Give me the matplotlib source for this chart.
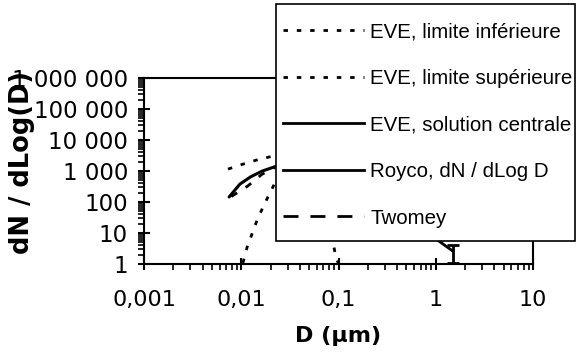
import matplotlib
matplotlib.use("Agg")
import matplotlib.pyplot as plt
from matplotlib.lines import Line2D
from matplotlib.patches import Rectangle
from matplotlib.ticker import FixedLocator, LogLocator, NullFormatter

# ---- data ----
lower_D = [0.0104, 0.0115, 0.0148, 0.0188, 0.0222, 0.03, 0.05, 0.07, 0.088, 0.093, 0.1]
lower_N = [1.08, 3.5, 30, 145, 410, 1000, 1500, 300, 4.8, 2.0, 1.0]

upper_D = [0.0073, 0.01, 0.015, 0.021, 0.03, 0.05, 0.08]
upper_N = [1150, 1600, 2350, 3000, 4000, 5000, 3000]

central_D = [0.0075, 0.0097, 0.0125, 0.0165, 0.0233, 0.035, 0.06, 0.08]
central_N = [145, 380, 650, 1000, 1450, 2000, 2500, 1500]

royco_D = [0.3, 0.5, 0.7, 1.0, 1.5]
royco_N = [600, 200, 50, 6.5, 2.6]
royco_err = 1.5  # error on the last Royco point

twomey_D = [0.0079, 0.0117, 0.0163, 0.0222, 0.03, 0.05]
twomey_N = [150, 330, 780, 1300, 1800, 2000]

x_ticks = [0.001, 0.01, 0.1, 1, 10]
x_labels = ["0,001", "0,01", "0,1", "1", "10"]
y_ticks = [1, 10, 100, 1000, 1e4, 1e5, 1e6]
y_labels = ["1", "10", "100", "1 000", "10 000", "100 000", "1 000 000"]

legend_labels = ["EVE, limite inférieure", "EVE, limite supérieure",
                 "EVE, solution centrale", "Royco, dN / dLog D", "Twomey"]

# ---- figure ----
W, H = 577, 354
fig = plt.figure(figsize=(W / 100, H / 100), dpi=100)
ax = fig.add_axes([144 / W, 1 - 264 / H, (533 - 144) / W, (264 - 78) / H])

dot = (0, (1.6, 3.2))
ax.plot(lower_D, lower_N, color="black", lw=2, linestyle=dot)
ax.plot(upper_D, upper_N, color="black", lw=2, linestyle=dot)
ax.plot(central_D, central_N, color="black", lw=2.2, solid_capstyle="round")
ax.plot(twomey_D, twomey_N, color="black", lw=2, linestyle=(0, (2.5, 3.6)))
ax.plot(royco_D, royco_N, color="black", lw=2)
ax.errorbar([royco_D[-1]], [royco_N[-1]], yerr=[[royco_err], [royco_err]],
            fmt="none", ecolor="black", elinewidth=2, capsize=4.5, capthick=2)

ax.set_xscale("log")
ax.set_yscale("log")
ax.set_xlim(0.001, 10)
ax.set_ylim(1, 1e6)

ax.xaxis.set_major_locator(FixedLocator(x_ticks))
ax.set_xticklabels(x_labels)
ax.yaxis.set_major_locator(FixedLocator(y_ticks))
ax.set_yticklabels(y_labels)
ax.xaxis.set_minor_locator(LogLocator(base=10, subs=range(2, 10), numticks=20))
ax.yaxis.set_minor_locator(LogLocator(base=10, subs=range(2, 10), numticks=20))
ax.xaxis.set_minor_formatter(NullFormatter())
ax.yaxis.set_minor_formatter(NullFormatter())

ax.tick_params(axis="both", which="major", direction="inout", length=9, width=1.5,
               color="black")
ax.tick_params(axis="both", which="minor", direction="out", length=4, width=1.2,
               color="black")
ax.tick_params(axis="x", which="major", labelsize=16, pad=14)
ax.tick_params(axis="y", which="major", labelsize=16.5, pad=7)
for s in ax.spines.values():
    s.set_linewidth(1.5)
    s.set_color("black")

fig.text(338.5 / W, 1 - 335.5 / H, "D (µm)", fontsize=16, fontweight="bold",
         ha="center", va="center")
fig.text(22 / W, 1 - 162 / H, "dN / dLog(D)", fontsize=18.5, fontweight="bold",
         ha="center", va="center", rotation=90)

# ---- legend box ----
rect = Rectangle((276 / W, 1 - 241 / H), 299 / W, 237 / H, transform=fig.transFigure,
                 facecolor="white", edgecolor="black", lw=1.2, zorder=5)
fig.add_artist(rect)

handles = [
    Line2D([], [], color="black", lw=2, linestyle=dot),
    Line2D([], [], color="black", lw=2, linestyle=dot),
    Line2D([], [], color="black", lw=2),
    Line2D([], [], color="black", lw=2),
    Line2D([], [], color="black", lw=2, linestyle=(0, (5.4, 4.3))),
]
leg = fig.legend(handles, legend_labels, loc="upper left",
                 bbox_to_anchor=(283 / W, 1 - 22.5 / H), bbox_transform=fig.transFigure,
                 frameon=False, borderpad=0, borderaxespad=0, handlelength=3.95,
                 handletextpad=0.3, labelspacing=1.34,
                 prop={"family": "Liberation Sans", "size": 14.8})
leg.set_zorder(6)

fig.savefig("out.png", dpi=100)
